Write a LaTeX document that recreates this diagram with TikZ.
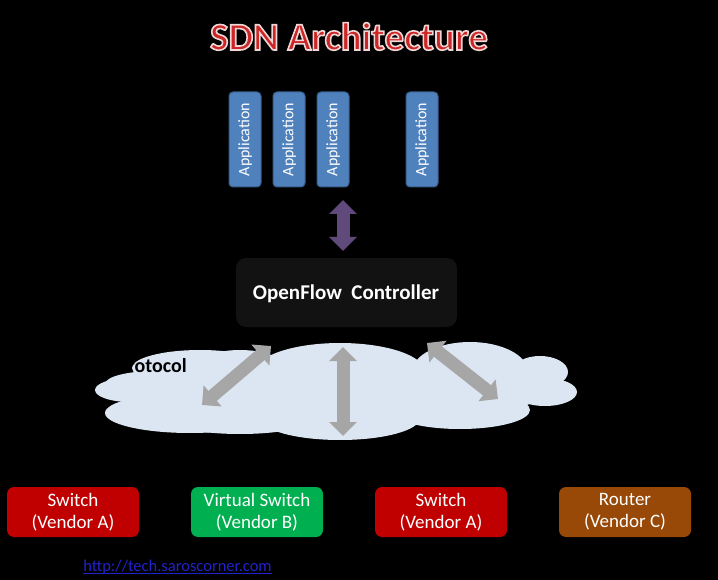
\documentclass[tikz,border=0pt]{standalone}
\usepackage{fontspec}
\setmainfont{Carlito}
\usetikzlibrary{arrows.meta}
\definecolor{appblue}{HTML}{4F81BD}
\definecolor{appborder}{HTML}{385D8A}
\definecolor{arrpurple}{HTML}{604A7B}
\definecolor{arrgray}{HTML}{A6A6A6}
\definecolor{cloudblue}{HTML}{DCE6F2}
\definecolor{ctrlgray}{HTML}{121212}
\definecolor{swred}{HTML}{C00000}
\definecolor{swgreen}{HTML}{00B050}
\definecolor{rtbrown}{HTML}{984807}
\definecolor{titlered}{HTML}{CC2626}
\definecolor{urlblue}{HTML}{2222CC}
\newcommand{\outlinedtext}[1]{\special{pdf:literal direct 2 Tr 1.6 w 0.94 0.84 0.84 RG}#1\special{pdf:literal direct 0 Tr}}
\tikzset{
  appbox/.style={draw=appborder, line width=1pt, fill=appblue, rounded corners=4pt, rotate=90,
    minimum width=95pt, minimum height=32pt, inner sep=0pt, text=white,
    font=\fontsize{16}{18}\selectfont},
  devbox/.style={rounded corners=7pt, minimum width=132pt, minimum height=50pt, inner sep=0pt,
    text=white, align=center, font=\fontsize{19}{22}\selectfont},
  blockarrow/.style={line width=13pt, draw=#1,
    {Triangle[width=27pt,length=14pt]}-{Triangle[width=27pt,length=14pt]}},
  cloudpart/.style={fill=cloudblue, draw=none},
}
\begin{document}
\begin{tikzpicture}[x=1pt,y={(0pt,-1pt)}]
\fill[black] (0,0) rectangle (718,580);
\useasboundingbox (0,0) rectangle (718,580);
% title
\node[anchor=base, text=titlered, font=\bfseries\fontsize{39}{40}\selectfont, inner sep=0pt]
  (title) at (349,50) {\outlinedtext{SDN Architecture}};
% applications
\node[appbox] (app1) at (245,139.5) {Application};
\node[appbox] (app2) at (289,139.5) {Application};
\node[appbox] (app3) at (333,139.5) {Application};
\node[appbox] (app4) at (422,139.5) {Application};
% controller
\node[fill=ctrlgray, rounded corners=10pt, minimum width=221pt, minimum height=69pt] (ctrl) at (346.5,292.5) {};
\node[anchor=base, inner sep=0pt, text=white, font=\bfseries\fontsize{21}{24}\selectfont]
  (ctrltext) at (346,300) {OpenFlow\ \ Controller};
% purple arrow
\coordinate (pa1) at (343,200);
\coordinate (pa2) at (343,251);
\draw[blockarrow=arrpurple] (pa1) -- (pa2);
% cloud
\fill[cloudpart] (130,390) ellipse [x radius=35, y radius=12];
\fill[cloudpart] (155,384) ellipse [x radius=50, y radius=13];
\fill[cloudpart] (200,368) ellipse [x radius=68, y radius=18];
\fill[cloudpart] (240,368) ellipse [x radius=45, y radius=18];
\fill[cloudpart] (190,413) ellipse [x radius=85, y radius=20];
\fill[cloudpart] (240,420) ellipse [x radius=70, y radius=14];
\fill[cloudpart] (340,372) ellipse [x radius=85, y radius=29];
\fill[cloudpart] (470,372) ellipse [x radius=58, y radius=30];
\fill[cloudpart] (540,372) ellipse [x radius=28, y radius=16];
\fill[cloudpart] (545,392) ellipse [x radius=32, y radius=14];
\fill[cloudpart] (340,418) ellipse [x radius=80, y radius=22];
\fill[cloudpart] (460,410) ellipse [x radius=70, y radius=19];
\fill[cloudpart] (340,395) ellipse [x radius=200, y radius=28];
\node[anchor=base east, inner sep=0pt, text=black, font=\bfseries\fontsize{20}{24}\selectfont]
  (proto) at (187,372) {OpenFlow Protocol};
% gray arrows
\coordinate (ga1) at (271,346);
\coordinate (ga2) at (202,405);
\coordinate (gb1) at (343,347);
\coordinate (gb2) at (343,436);
\coordinate (gc1) at (427,343);
\coordinate (gc2) at (498,399);
\draw[blockarrow=arrgray] (ga1) -- (ga2);
\draw[blockarrow=arrgray] (gb1) -- (gb2);
\draw[blockarrow=arrgray] (gc1) -- (gc2);
% devices
\node[devbox, fill=swred] (sw1) at (73,512) {Switch\\(Vendor A)};
\node[devbox, fill=swgreen] (vsw) at (257,512) {Virtual Switch\\(Vendor B)};
\node[devbox, fill=swred] (sw2) at (441,512) {Switch\\(Vendor A)};
\node[devbox, fill=rtbrown] (rt) at (625,512) {Router\\(Vendor C)};
% url
\node[anchor=base, inner sep=0pt, text=urlblue, font=\fontsize{16.5}{18}\selectfont]
  (url) at (177.5,571) {http://tech.saroscorner.com};
\draw[urlblue, line width=0.9pt] ([yshift=-2pt]url.base west) -- ([yshift=-2pt]url.base east);
\end{tikzpicture}
\end{document}
